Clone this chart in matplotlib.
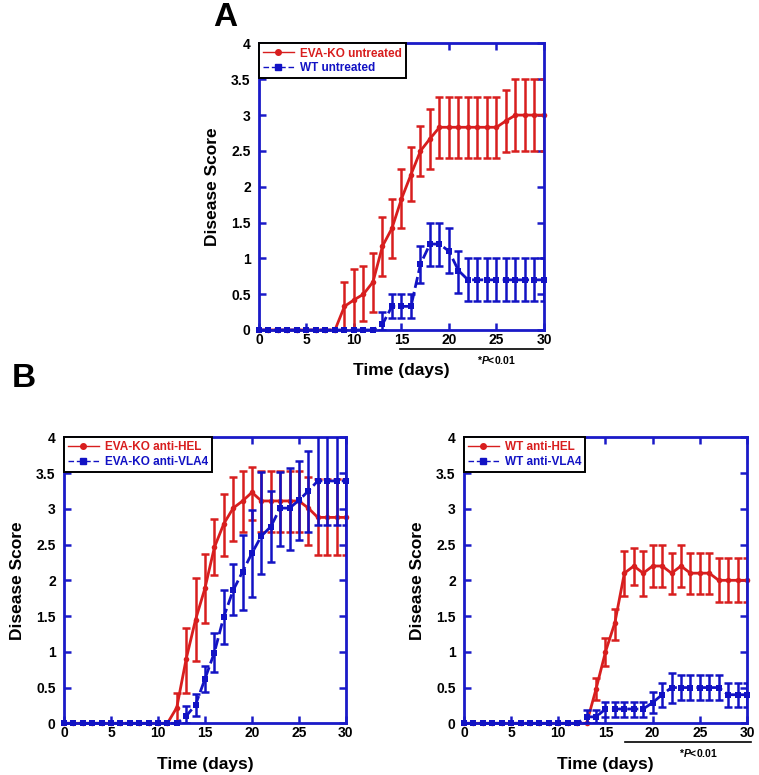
import numpy as np
import matplotlib
matplotlib.use("Agg")
import matplotlib.pyplot as plt
from matplotlib.lines import Line2D
from matplotlib.transforms import blended_transform_factory

plt.rcParams["font.family"] = ["Liberation Sans", "DejaVu Sans"]
plt.rcParams["font.weight"] = "bold"
plt.rcParams["mathtext.fontset"] = "custom"
plt.rcParams["mathtext.it"] = "Liberation Sans:italic:bold"
plt.rcParams["mathtext.rm"] = "Liberation Sans:bold"

RED = "#d81e1e"
BLUE = "#1212c4"
AXIS_BLUE = "#1a1ac8"

days = list(range(31))

# ---- Panel A ----
eva_ko_untreated = [0] * 9 + [0.33, 0.42, 0.5, 0.67, 1.17, 1.42, 1.83, 2.17, 2.5, 2.67] + [2.83] * 7 + [2.92] + [3.0] * 4
eva_ko_untreated_hi = [0] * 9 + [0.67, 0.85, 0.9, 1.08, 1.58, 1.83, 2.25, 2.55, 2.85, 3.08] + [3.25] * 7 + [3.35] + [3.5] * 4
eva_ko_untreated_lo = [0] * 9 + [0.0, 0.0, 0.12, 0.25, 0.75, 1.0, 1.42, 1.8, 2.15, 2.25] + [2.4] * 7 + [2.48] + [2.5] * 4

wt_untreated = [0] * 13 + [0.08, 0.33, 0.33, 0.33, 0.92, 1.2, 1.2, 1.1, 0.83] + [0.7] * 9
wt_untreated_hi = [0] * 13 + [0.25, 0.5, 0.5, 0.5, 1.17, 1.5, 1.5, 1.42, 1.1] + [1.0] * 9
wt_untreated_lo = [0] * 13 + [0.0, 0.17, 0.17, 0.17, 0.65, 0.9, 0.9, 0.8, 0.52] + [0.4] * 9

# ---- Panel B left ----
eva_ko_anti_hel = [0] * 12 + [0.22, 0.9, 1.45, 1.89, 2.46, 2.79, 3.01, 3.11, 3.23] + [3.11] * 5 + [3.01] + [2.88] * 4
eva_ko_anti_hel_hi = [0] * 12 + [0.43, 1.34, 2.03, 2.37, 2.86, 3.21, 3.44, 3.53, 3.59] + [3.53] * 5 + [3.45] + [3.42] * 4
eva_ko_anti_hel_lo = [0] * 12 + [0.0, 0.43, 0.87, 1.41, 2.07, 2.34, 2.55, 2.68, 2.84] + [2.68] * 5 + [2.49] + [2.35] * 4

eva_ko_anti_vla4 = [0] * 13 + [0.1, 0.26, 0.62, 0.99, 1.49, 1.86, 2.12, 2.38, 2.62, 2.75, 3.01, 3.01, 3.12, 3.25] + [3.39] * 4
eva_ko_anti_vla4_hi = [0] * 13 + [0.24, 0.41, 0.8, 1.27, 1.87, 2.23, 2.64, 2.99, 3.51, 3.25, 3.52, 3.57, 3.67, 3.81] + [4.2] * 4
eva_ko_anti_vla4_lo = [0] * 13 + [0.0, 0.1, 0.44, 0.72, 1.11, 1.52, 1.59, 1.77, 2.09, 2.25, 2.48, 2.42, 2.57, 2.68] + [2.77] * 4

# ---- Panel B right ----
wt_anti_hel = [0] * 14 + [0.48, 1.0, 1.41, 2.1, 2.2, 2.1, 2.2, 2.2, 2.1, 2.2, 2.1, 2.1, 2.1] + [2.0] * 4
wt_anti_hel_hi = [0] * 14 + [0.63, 1.2, 1.6, 2.41, 2.45, 2.41, 2.5, 2.5, 2.38, 2.5, 2.38, 2.38, 2.38] + [2.31] * 4
wt_anti_hel_lo = [0] * 14 + [0.33, 0.8, 1.17, 1.78, 1.94, 1.78, 1.9, 1.9, 1.81, 1.9, 1.81, 1.81, 1.81] + [1.69] * 4

wt_anti_vla4 = [0] * 13 + [0.09, 0.09] + [0.2] * 5 + [0.29, 0.4] + [0.5] * 6 + [0.4] * 3
wt_anti_vla4_hi = [0] * 13 + [0.19, 0.19] + [0.3] * 5 + [0.44, 0.56, 0.71] + [0.67] * 5 + [0.56] * 3
wt_anti_vla4_lo = [0] * 13 + [0.0, 0.0] + [0.09] * 5 + [0.14, 0.23, 0.28] + [0.33] * 5 + [0.23] * 3


def _series(ax, y, hi, lo, color, marker, ms, ls, z):
    x = np.array(days)
    y, hi, lo = np.array(y), np.array(hi), np.array(lo)
    m = hi > lo
    ax.errorbar(x[m], y[m], yerr=[y[m] - lo[m], hi[m] - y[m]], fmt="none",
                ecolor=color, elinewidth=1.8, capsize=3, capthick=1.8, zorder=z - 0.1)
    ax.plot(x, y, color=color, lw=2, ls=ls, marker=marker, ms=ms,
            markeredgewidth=0, clip_on=False, zorder=z)


def _style(ax):
    ax.set_xlim(0, 30)
    ax.set_ylim(0, 4)
    ax.set_xticks([0, 5, 10, 15, 20, 25, 30])
    ax.set_yticks([0, 0.5, 1, 1.5, 2, 2.5, 3, 3.5, 4])
    ax.set_yticklabels(["0", "0.5", "1", "1.5", "2", "2.5", "3", "3.5", "4"])
    for s in ax.spines.values():
        s.set_color(AXIS_BLUE); s.set_linewidth(2)
    ax.tick_params(direction="in", top=True, right=True, length=5, width=1.8,
                   color=AXIS_BLUE, labelsize=10)
    ax.tick_params(axis="x", pad=2)
    ax.tick_params(axis="y", pad=6)
    ax.set_xlabel("Time (days)", fontsize=12.5, fontweight="bold", labelpad=12)
    ax.set_ylabel("Disease Score", fontsize=12.5, fontweight="bold", labelpad=8)


def _legend(ax, labels):
    handles = [Line2D([], [], color=RED, lw=1, marker="o", ms=4),
               Line2D([], [], color=BLUE, lw=1, ls=(0, (4, 2)), marker="s", ms=4)]
    leg = ax.legend(handles, labels, loc="upper left", bbox_to_anchor=(0, 1),
                    borderaxespad=0, fancybox=False, framealpha=1, edgecolor="black",
                    fontsize=8.5, handlelength=2.6, handletextpad=0.5,
                    labelcolor=[RED, BLUE], borderpad=0.35, labelspacing=0.2)
    leg.get_frame().set_linewidth(1.4)
    for t in leg.get_texts():
        t.set_fontweight("bold")


def _pval(ax, x0, x1, xt):
    tr = blended_transform_factory(ax.transData, ax.transAxes)
    ax.plot([x0, x1], [-0.067, -0.067], color="black", lw=1.2, transform=tr, clip_on=False)
    ax.text(xt, -0.105, "*$\\mathit{P}$<0.01", transform=tr, ha="center", va="center",
            fontsize=7.5, fontweight="bold")


fig = plt.figure(figsize=(7.59, 7.75), dpi=100)

# red drawn under the spines (zorder 2.5) so its zero baseline is hidden, blue on top
axA = fig.add_axes([0.3412, 0.5742, 0.3755, 0.3697])
_series(axA, eva_ko_untreated, eva_ko_untreated_hi, eva_ko_untreated_lo, RED, "o", 4, "-", 2.2)
_series(axA, wt_untreated, wt_untreated_hi, wt_untreated_lo, BLUE, "s", 5, (0, (4, 1.5)), 3)
_style(axA)
_legend(axA, ["EVA-KO untreated", "WT untreated"])
_pval(axA, 14.8, 29.9, 25)

axB1 = fig.add_axes([0.0843, 0.0667, 0.3715, 0.369])
_series(axB1, eva_ko_anti_hel, eva_ko_anti_hel_hi, eva_ko_anti_hel_lo, RED, "o", 4, "-", 2.2)
_series(axB1, eva_ko_anti_vla4, eva_ko_anti_vla4_hi, eva_ko_anti_vla4_lo, BLUE, "s", 5, (0, (4, 1.5)), 3)
_style(axB1)
_legend(axB1, ["EVA-KO anti-HEL", "EVA-KO anti-VLA4"])

axB2 = fig.add_axes([0.6113, 0.0667, 0.3729, 0.369])
_series(axB2, wt_anti_hel, wt_anti_hel_hi, wt_anti_hel_lo, RED, "o", 4, "-", 2.2)
_series(axB2, wt_anti_vla4, wt_anti_vla4_hi, wt_anti_vla4_lo, BLUE, "s", 5, (0, (4, 1.5)), 3)
_style(axB2)
_legend(axB2, ["WT anti-HEL", "WT anti-VLA4"])
_pval(axB2, 17.1, 30.4, 24.9)

fig.text(225 / 759, 1 - 18 / 775, "A", fontsize=24, fontweight="bold", ha="center", va="center")
fig.text(24 / 759, 1 - 378 / 775, "B", fontsize=24, fontweight="bold", ha="center", va="center")

fig.savefig("out.png", dpi=100)
